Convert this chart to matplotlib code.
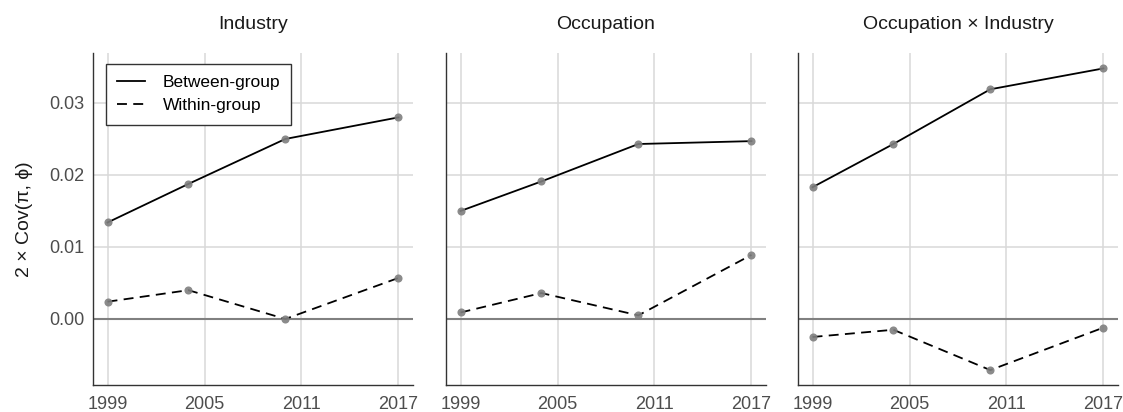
import matplotlib.pyplot as plt
from matplotlib.lines import Line2D

plt.rcParams['font.family'] = ['Liberation Sans', 'DejaVu Sans']

years = [1999, 2004, 2010, 2017]
panels = ["Industry", "Occupation", "Occupation \u00d7 Industry"]

between_industry = [0.0134, 0.01875, 0.0250, 0.0280]
within_industry = [0.0024, 0.0040, 0.0000, 0.0057]

between_occupation = [0.0150, 0.0191, 0.0243, 0.0247]
within_occupation = [0.0009, 0.0036, 0.0005, 0.0089]

between_occ_ind = [0.0183, 0.0243, 0.0319, 0.0348]
within_occ_ind = [-0.0025, -0.0015, -0.0071, -0.0012]

between = [between_industry, between_occupation, between_occ_ind]
within = [within_industry, within_occupation, within_occ_ind]

xticks = [1999, 2005, 2011, 2017]
yticks = [0.00, 0.01, 0.02, 0.03]

fig = plt.figure(figsize=(11.23, 4.12), dpi=100)

lefts = [93, 446, 798]
W, H = 1123, 412
dash = (0, (5.5, 3.5))
axes = []
for i, left in enumerate(lefts):
    ax = fig.add_axes([left / W, 1 - 385 / H, 320 / W, (385 - 53) / H])
    axes.append(ax)

    ax.axhline(0, color='#808080', lw=1.5, zorder=1)
    ax.plot(years, between[i], color='black', lw=1.3, zorder=3)
    ax.plot(years, within[i], color='black', lw=1.3, ls=dash, zorder=3)
    ax.scatter(years, between[i], s=34, color='#7f7f7f', alpha=0.9, zorder=4, linewidths=0)
    ax.scatter(years, within[i], s=34, color='#7f7f7f', alpha=0.9, zorder=4, linewidths=0)

    ax.set_xlim(1998.1, 2017.9)
    ax.set_ylim(-0.00917, 0.03694)
    ax.set_xticks(xticks)
    ax.set_yticks(yticks)
    ax.set_yticklabels(['%.2f' % v for v in yticks])
    ax.grid(True, color='#d9d9d9', lw=1.1, zorder=0)
    ax.set_axisbelow(True)
    ax.tick_params(length=0, labelsize=13, colors='#4d4d4d')
    ax.tick_params(axis='x', pad=8)
    ax.tick_params(axis='y', pad=6)

    for s in ['top', 'right']:
        ax.spines[s].set_visible(False)
    for s in ['left', 'bottom']:
        ax.spines[s].set_color('#333333')
        ax.spines[s].set_linewidth(1.0)

    ax.set_title(panels[i], fontsize=14, pad=17, color='#1a1a1a')
    if i > 0:
        ax.tick_params(labelleft=False)

axes[0].set_ylabel("2 \u00d7 Cov(\u03c0, \u03d5)", fontsize=14, color='#1a1a1a', labelpad=12)

handles = [Line2D([], [], color='black', lw=1.3),
           Line2D([], [], color='black', lw=1.3, ls=dash)]
leg = axes[0].legend(handles, ["Between-group", "Within-group"],
                     loc='upper left', bbox_to_anchor=((106 - 93) / 320, (385 - 64) / 332),
                     fontsize=12.5, frameon=True, fancybox=False, framealpha=1,
                     edgecolor='#333333', handlelength=1.6, handletextpad=1.0,
                     borderpad=0.65, labelspacing=0.45, borderaxespad=0)
leg.get_frame().set_linewidth(1.0)

fig.savefig('out.png', dpi=100)
